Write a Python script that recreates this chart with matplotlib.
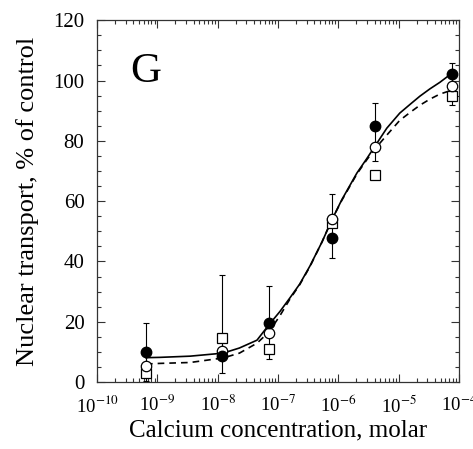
import matplotlib
matplotlib.use("Agg")
import matplotlib.pyplot as plt
from matplotlib.ticker import FixedLocator, LogLocator, MultipleLocator, NullFormatter

plt.rcParams['font.family'] = ['Liberation Serif', 'DejaVu Serif']
plt.rcParams['mathtext.fontset'] = 'stix'

# ---- data ----
conc = [6.5e-10, 1.2e-8, 7.1e-8, 7.9e-7, 4.0e-6, 7.7e-5]
filled = [9.9, 8.6, 19.6, 47.7, 84.9, 102.0]
opened = [5.3, 10.3, 16.2, 54.0, 77.8, 98.2]
squares = [3.0, 14.6, 11.0, 52.6, 68.6, 95.0]
err_low = [0.5, 3.0, 7.6, 41.0, 73.2, 91.8]
err_high = [19.5, 35.5, 31.7, 62.3, 92.5, 105.7]

fit_x = [6.5e-10, 1.1e-9, 3.5e-9, 1.23e-8, 2.3e-8, 4.5e-8, 7.1e-8, 1.08e-7, 1.58e-7,
         2.3e-7, 3.4e-7, 5.4e-7, 7.85e-7, 1.15e-6, 2.04e-6, 3.0e-6, 4.06e-6, 6.4e-6,
         1.05e-5, 1.6e-5, 2.26e-5, 3.3e-5, 4.85e-5, 7.66e-5]
fit_solid = [8.1, 8.2, 8.6, 9.6, 11.3, 13.9, 19.0, 23.4, 27.9,
             32.5, 38.5, 46.5, 53.8, 60.5, 69.3, 74.2, 78.2, 84.2,
             89.2, 92.3, 94.8, 97.2, 99.4, 102.4]
fit_dashed = [6.0, 6.2, 6.5, 8.0, 9.6, 12.9, 16.6, 22.0, 27.5,
              32.3, 38.3, 46.5, 53.8, 60.3, 69.0, 73.8, 77.3, 81.9,
              86.8, 89.6, 91.8, 93.8, 95.5, 96.8]

xticks = [1e-10, 1e-9, 1e-8, 1e-7, 1e-6, 1e-5, 1e-4]
xticklabels = ['10$^{-10}$', '10$^{-9}$', '10$^{-8}$', '10$^{-7}$',
               '10$^{-6}$', '10$^{-5}$', '10$^{-4}$']
yticks = [0, 20, 40, 60, 80, 100, 120]

fig = plt.figure(figsize=(4.73, 4.49), dpi=100)
ax = fig.add_axes([0.205, 0.149, 0.765, 0.806])
ax.set_xscale('log')
ax.set_xlim(1e-10, 1e-4)
ax.set_ylim(0, 120)

ax.plot(fit_x, fit_solid, '-', color='black', lw=1.2, zorder=2)
ax.plot(fit_x, fit_dashed, '--', color='black', lw=1.2, dashes=(4, 3), zorder=2)

yerr = [[f - lo for f, lo in zip(filled, err_low)],
        [hi - f for f, hi in zip(filled, err_high)]]
ax.errorbar(conc, filled, yerr=yerr, fmt='none', ecolor='black', elinewidth=0.8,
            capsize=2, capthick=0.8, zorder=3)

ax.plot(conc, squares, 's', mfc='white', mec='black', ms=7, mew=0.9, zorder=4)
ax.plot(conc, opened, 'o', mfc='white', mec='black', ms=7.5, mew=0.9, zorder=5)
ax.plot(conc, filled, 'o', mfc='black', mec='black', ms=7.5, zorder=6)

ax.xaxis.set_major_locator(FixedLocator(xticks))
ax.set_xticklabels(xticklabels)
ax.xaxis.set_minor_locator(LogLocator(base=10, subs=range(2, 10), numticks=20))
ax.xaxis.set_minor_formatter(NullFormatter())
ax.set_yticks(yticks)
ax.yaxis.set_minor_locator(MultipleLocator(5))

ax.tick_params(which='both', direction='in', top=True, right=True,
               width=0.8, color='#333333')
ax.tick_params(which='major', length=6)
ax.tick_params(which='minor', length=3)
ax.tick_params(axis='x', labelsize=13.5, pad=9)
ax.tick_params(axis='y', labelsize=15, pad=9)
for s in ax.spines.values():
    s.set_linewidth(0.9)
    s.set_color('#333333')

ax.set_xlabel('Calcium concentration, molar', fontsize=18, labelpad=2)
ax.set_ylabel('Nuclear transport, % of control', fontsize=19, labelpad=10)
ax.text(3.5e-10, 99.5, 'G', fontsize=31, ha='left', va='baseline')

fig.savefig('out.png', dpi=100)
